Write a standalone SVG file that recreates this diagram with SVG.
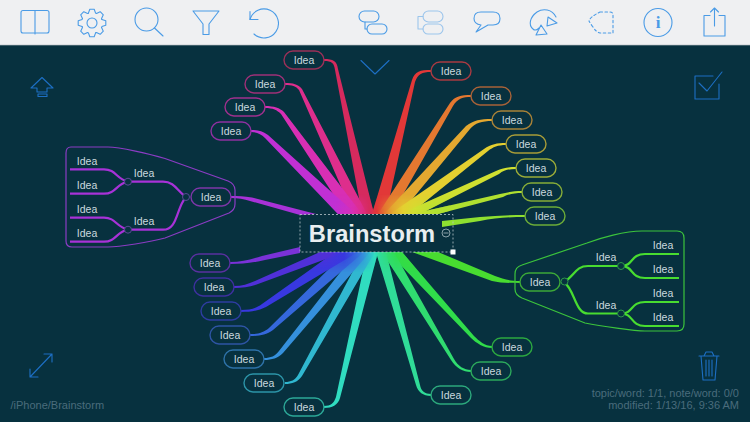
<svg xmlns="http://www.w3.org/2000/svg" width="750" height="422" viewBox="0 0 750 422">
<style>
.t{font-family:"Liberation Sans",Arial,sans-serif;font-size:10.500px;fill:#cbdadf;text-anchor:middle}
.p{fill:#07313f;stroke-width:1.4}
.ic{fill:none;stroke:#4a9be6;stroke-width:1.1;stroke-linejoin:round;stroke-linecap:round}
.ic2{fill:none;stroke:#1d6fc4;stroke-width:1.1;stroke-linejoin:round;stroke-linecap:round}
.s{font-family:"Liberation Sans",Arial,sans-serif;font-size:11px;fill:#4a6c7c}
.br{fill:none;stroke-width:2.200;stroke-linecap:butt}
.o{fill:#07313f;stroke-width:1}
.b{fill:none;stroke-width:1.200}
</style>
<defs>
<path id="tooth" d="M-3.6 -9.9L-2.2 -13.8L2.2 -13.8L3.6 -9.9A10.5 10.5 0 0 1 4.4 -9.5"/>
<rect id="pill" x="-20" y="-9" width="40" height="18" rx="9"/>
<linearGradient id="gt" gradientUnits="userSpaceOnUse" x1="335" y1="0" x2="435" y2="0">
<stop offset="0" stop-color="#c030d4"/><stop offset="0.17" stop-color="#d82fb4"/><stop offset="0.26" stop-color="#de2e8c"/><stop offset="0.34" stop-color="#d62a5e"/><stop offset="0.42" stop-color="#e23838"/><stop offset="0.5" stop-color="#e47830"/><stop offset="0.58" stop-color="#e4a830"/><stop offset="0.68" stop-color="#e4d030"/><stop offset="0.8" stop-color="#d0e030"/><stop offset="1" stop-color="#b0e030"/>
</linearGradient>
<linearGradient id="gb" gradientUnits="userSpaceOnUse" x1="325" y1="0" x2="420" y2="0">
<stop offset="0" stop-color="#5030d8"/><stop offset="0.2" stop-color="#3838e0"/><stop offset="0.32" stop-color="#3568dc"/><stop offset="0.4" stop-color="#3590dc"/><stop offset="0.46" stop-color="#30b8d0"/><stop offset="0.52" stop-color="#30dcc0"/><stop offset="0.58" stop-color="#30dc98"/><stop offset="0.66" stop-color="#30dc70"/><stop offset="0.75" stop-color="#30dc4a"/><stop offset="1" stop-color="#48dc30"/>
</linearGradient>
<linearGradient id="ft" x1="0" y1="0" x2="0" y2="1"><stop offset="0" stop-color="#000"/><stop offset="1" stop-color="#fff"/></linearGradient>
<linearGradient id="fb" x1="0" y1="0" x2="0" y2="1"><stop offset="0" stop-color="#fff"/><stop offset="1" stop-color="#000"/></linearGradient>
<mask id="mt" maskUnits="userSpaceOnUse" x="320" y="194" width="130" height="21"><rect x="320" y="194" width="130" height="21" fill="url(#ft)"/></mask>
<mask id="mb" maskUnits="userSpaceOnUse" x="310" y="251" width="130" height="21"><rect x="310" y="251" width="130" height="21" fill="url(#fb)"/></mask>
<clipPath id="ct">
<path d="M324 59C333 59 337 61 338 69L374 214L362 214L335 70C334 63 332 61 324 61Z"/>
<path d="M285 83C293 83 298 84 302 89L367 214L353 214L299 90C296 86 292 85 285 85Z"/>
<path d="M265 106C274 106 280 108 284 112L362 214L346 214L281 114C277 110 273 108 265 108Z"/>
<path d="M251 130C258 130 262 131 268 135L356 214L338 214L265 138C261 134 257 132 251 132Z"/>
<path d="M431 70C420 70 415 71 412 80L372 214L386 214L415 82C418 74 422 72 431 72Z"/>
<path d="M471 95C461 95 455 96 450 103L378 214L392 214L453 106C458 98 463 97 471 97Z"/>
<path d="M492 119C480 119 474 120 466 126L384 214L400 214L470 129C475 123 482 121 492 121Z"/>
<path d="M506 143C497 143 491 144 484 149L390 214L410 214L488 151C493 147 498 145 506 145Z"/>
<path d="M516 167C508 167 503 168 496 171L400 214L420 214L499 174C504 170 509 169 516 169Z"/>
<path d="M522 191C514 191 508 192 500 194L412 214L438 214L503 197C509 194 515 193 522 193Z"/>
</clipPath>
<clipPath id="cb">
<path d="M492 346C485 346 479 341 474 336L402 252L388 252L471 338C476 343 484 348 492 348Z"/>
<path d="M471 370C464 370 458 366 454 359L394 252L382 252L451 360C456 368 463 372 471 372Z"/>
<path d="M431 394C425 394 421 391 420 385L386 252L376 252L416 385C418 392 423 396 431 396Z"/>
<path d="M324 406C331 406 334 403 336 397L367 252L378 252L340 398C338 405 332 408 324 408Z"/>
<path d="M285 382C291 382 295 380 298 375L363 252L375 252L302 376C298 382 292 384 285 384Z"/>
<path d="M264 358C271 358 275 356 279 351L356 252L370 252L283 353C278 358 272 360 264 360Z"/>
<path d="M250 334C258 334 263 333 269 328L346 252L364 252L273 330C266 335 259 336 250 336Z"/>
<path d="M241 310C250 310 255 309 262 304L335 252L358 252L266 307C258 311 250 312 241 312Z"/>
</clipPath>
</defs>
<rect width="750" height="422" fill="#07313f"/>
<g id="toolbar">
<rect width="750" height="45" fill="#eff0f2"/>
<g class="ic">
<path d="M35 34V10.500H23Q21 10.500 21 12.500V31Q21 33 23 33H47Q49 33 49 31V12.500Q49 10.500 47 10.500H35"/>
<g transform="translate(92 23)"><use href="#tooth"/><use href="#tooth" transform="rotate(45)"/><use href="#tooth" transform="rotate(90)"/><use href="#tooth" transform="rotate(135)"/><use href="#tooth" transform="rotate(180)"/><use href="#tooth" transform="rotate(225)"/><use href="#tooth" transform="rotate(270)"/><use href="#tooth" transform="rotate(315)"/><circle r="5"/></g>
<circle cx="146.500" cy="19.500" r="11.500"/><path d="M154.500 28L163 36"/>
<path d="M193 11H219L209 24V34.500H203V24Z"/>
<path d="M250 19.500A14.500 14.500 0 1 1 254 34"/><path d="M250 11.500V19.500H258"/>
<rect x="359" y="11" width="20" height="11" rx="5.500"/><rect x="367" y="24" width="20" height="10" rx="5"/><path d="M365 22V29H367"/>
<g opacity="0.5"><rect x="423" y="11" width="20" height="11" rx="5.500"/><rect x="423" y="24" width="20" height="10" rx="5"/><path d="M423 16.500H418V29H423"/></g>
<path d="M481 12H493Q500 12 500 18.500Q500 25 493 25H488L476 32L481 25Q474 24 474 18.500Q474 12 481 12Z"/>
<path d="M556 17C552 9 543 8 537 12C530 17 528 25 533 29C535 31 537 30 539 28"/><path d="M548 17L557 23L547 26Z"/><path d="M541 25L547 34L536 35Z"/>
<path d="M600 12H610Q613 12 613 15V33H600Q596 32 593 27Q590 23 589 21Q590 17 600 12Z" stroke-dasharray="2.500 2.500"/>
<circle cx="658" cy="22.500" r="14"/>
<path d="M704 15.500H710M719 15.500H725V36H704V15.500"/><path d="M714.500 26V8M710.500 12L714.500 8L718.500 12"/>
</g>
<text x="658" y="28" text-anchor="middle" font-family="Liberation Serif,serif" font-weight="bold" font-size="17" fill="#4a9be6">i</text>
<rect y="44.500" width="750" height="0.800" fill="#c9cdd1"/>
</g>
<g id="controls" class="ic2">
<path d="M42 77.500L53 88H47V92H37V88H31Z"/><rect x="38" y="94" width="9" height="2.500"/>
<path d="M361 60.500L375 74L389 60.500"/>
<path d="M719 84V99H695V76H713"/><path d="M699 83L707 91L722 72"/>
<path d="M30 377L52 354M44 354H52V362M30 369V377H38"/>
<path d="M699 356H719M704 356L706 352H712L714 356M701 356L703 380H715L717 356M706 360V376M709 360V376M712 360V376"/>
</g>
<g id="connectors">
<path fill="#d62a5e" d="M324 59C333 59 337 61 338 69L374 214L362 214L335 70C334 63 332 61 324 61Z"/>
<path fill="#de2e8c" d="M285 83C293 83 298 84 302 89L367 214L353 214L299 90C296 86 292 85 285 85Z"/>
<path fill="#d82fb4" d="M265 106C274 106 280 108 284 112L362 214L346 214L281 114C277 110 273 108 265 108Z"/>
<path fill="#c030d4" d="M251 130C258 130 262 131 268 135L356 214L338 214L265 138C261 134 257 132 251 132Z"/>
<path fill="#a832d8" d="M231 196C238 196 244 196 252 197.500L316 214L300 215L250 201C244 199 238 198 231 198Z"/>
<g class="br" stroke="#a832d8">
<path d="M128 181.700H163C175 181.700 177 191 186 197"/><path d="M128 229.700H163C178 229.700 176 208 186 197"/>
<path d="M70 169.300H104C116 169.300 116 179 128 181.700"/><path d="M70 193.700H104C116 193.700 116 184 128 181.700"/>
<path d="M70 217.700H104C116 217.700 116 227 128 229.700"/><path d="M70 241.700H104C116 241.700 116 232 128 229.700"/>
</g>
<path fill="#e23838" d="M431 70C420 70 415 71 412 80L372 214L386 214L415 82C418 74 422 72 431 72Z"/>
<path fill="#e47830" d="M471 95C461 95 455 96 450 103L378 214L392 214L453 106C458 98 463 97 471 97Z"/>
<path fill="#e4a830" d="M492 119C480 119 474 120 466 126L384 214L400 214L470 129C475 123 482 121 492 121Z"/>
<path fill="#e4d030" d="M506 143C497 143 491 144 484 149L390 214L410 214L488 151C493 147 498 145 506 145Z"/>
<path fill="#d0e030" d="M516 167C508 167 503 168 496 171L400 214L420 214L499 174C504 170 509 169 516 169Z"/>
<path fill="#b0e030" d="M522 191C514 191 508 192 500 194L412 214L438 214L503 197C509 194 515 193 522 193Z"/>
<path fill="#8ee030" d="M525 215C510 215 495 216 480 217L442 221L442 227L480 221C495 218 510 217 525 217Z"/>
<path fill="#48dc30" d="M520 281C510 281 503 279 495 276L438 252L412 252L492 281C500 283 510 283 520 283Z"/>
<g class="br" stroke="#48dc30">
<path d="M564 282C575 276 575 266 588 266H621"/><path d="M564 282C575 290 575 313.500 588 313.500H621"/>
<path d="M621 266C634 266 630 254 645 254H679"/><path d="M621 266C634 266 630 278 645 278H679"/>
<path d="M621 313.500C634 313.500 630 302 645 302H679"/><path d="M621 313.500C634 313.500 630 326 645 326H679"/>
</g>
<path fill="#30dc4a" d="M492 346C485 346 479 341 474 336L402 252L388 252L471 338C476 343 484 348 492 348Z"/>
<path fill="#30dc70" d="M471 370C464 370 458 366 454 359L394 252L382 252L451 360C456 368 463 372 471 372Z"/>
<path fill="#30dc98" d="M431 394C425 394 421 391 420 385L386 252L376 252L416 385C418 392 423 396 431 396Z"/>
<path fill="#30dcc0" d="M324 406C331 406 334 403 336 397L367 252L378 252L340 398C338 405 332 408 324 408Z"/>
<path fill="#30b8d0" d="M285 382C291 382 295 380 298 375L363 252L375 252L302 376C298 382 292 384 285 384Z"/>
<path fill="#3590dc" d="M264 358C271 358 275 356 279 351L356 252L370 252L283 353C278 358 272 360 264 360Z"/>
<path fill="#3568dc" d="M250 334C258 334 263 333 269 328L346 252L364 252L273 330C266 335 259 336 250 336Z"/>
<path fill="#3838e0" d="M241 310C250 310 255 309 262 304L335 252L358 252L266 307C258 311 250 312 241 312Z"/>
<path fill="#5030d8" d="M234 286C242 286 248 284 255 281L320 252L345 252L258 284C250 287 243 288 234 288Z"/>
<path fill="#7a32d8" d="M230 262C242 262 252 259 262 256L300 247L300 253L265 260C252 263 242 264 230 264Z"/>
<g mask="url(#mt)"><rect x="320" y="194" width="130" height="21" fill="url(#gt)" clip-path="url(#ct)"/></g>
<g mask="url(#mb)"><rect x="310" y="251" width="130" height="21" fill="url(#gb)" clip-path="url(#cb)"/></g>
</g>
<g id="group-left">
<path class="b" stroke="#8b3cc4" d="M71 147H108C120 147 150 154 165 158.500L228 181Q235 184 235 190V204Q235 210 229 213L165 238C150 242 120 247 108 247H72Q66 247 66 241V153Q66 147 71 147Z"/>
</g>
<g id="group-right">
<path class="b" stroke="#3cc43c" d="M677 231H642C625 231 600 238 587 243L522 265Q515 267 515 274V289Q515 295 522 298L585 323C600 326 635 331 645 331H677Q684 331 684 324V238Q684 231 677 231Z"/>
</g>
<g id="root">
<rect x="300" y="214.500" width="153" height="37.500" fill="none" stroke="#b9c6cb" stroke-width="0.800" stroke-dasharray="2 2"/>
<text x="372" y="241.500" text-anchor="middle" font-family="Liberation Sans,Arial,sans-serif" font-weight="bold" font-size="23.700" fill="#e8eef0">Brainstorm</text>
<circle cx="446" cy="233" r="4" fill="none" stroke="#a9bcc3" stroke-width="0.800"/><path d="M443.500 233H448.500" stroke="#a9bcc3" stroke-width="0.800"/>
<rect x="450.500" y="249.500" width="5" height="5" fill="#fff"/>
</g>
<g id="n1"><use href="#pill" x="304" y="60" class="p" stroke="#9a3058"/><text class="t" x="304" y="63.500">Idea</text></g>
<g id="n2"><use href="#pill" x="265" y="84" class="p" stroke="#9f3078"/><text class="t" x="265" y="87.500">Idea</text></g>
<g id="n3"><use href="#pill" x="245" y="107" class="p" stroke="#a0308e"/><text class="t" x="245" y="110.500">Idea</text></g>
<g id="n4"><use href="#pill" x="231" y="131" class="p" stroke="#8e30a0"/><text class="t" x="231" y="134.500">Idea</text></g>
<g id="n5"><use href="#pill" x="451" y="71" class="p" stroke="#a83a42"/><text class="t" x="451" y="74.500">Idea</text></g>
<g id="n6"><use href="#pill" x="491" y="96" class="p" stroke="#a86238"/><text class="t" x="491" y="99.500">Idea</text></g>
<g id="n7"><use href="#pill" x="512" y="120" class="p" stroke="#a88238"/><text class="t" x="512" y="123.500">Idea</text></g>
<g id="n8"><use href="#pill" x="526" y="144" class="p" stroke="#a89c38"/><text class="t" x="526" y="147.500">Idea</text></g>
<g id="n9"><use href="#pill" x="536" y="168" class="p" stroke="#9cac38"/><text class="t" x="536" y="171.500">Idea</text></g>
<g id="n10"><use href="#pill" x="542" y="192" class="p" stroke="#86ac38"/><text class="t" x="542" y="195.500">Idea</text></g>
<g id="n11"><use href="#pill" x="545" y="216" class="p" stroke="#6cac38"/><text class="t" x="545" y="219.500">Idea</text></g>
<g id="n12"><use href="#pill" x="210" y="263" class="p" stroke="#5a30a0"/><text class="t" x="210" y="266.500">Idea</text></g>
<g id="n13"><use href="#pill" x="214" y="287" class="p" stroke="#3e30a0"/><text class="t" x="214" y="290.500">Idea</text></g>
<g id="n14"><use href="#pill" x="221" y="311" class="p" stroke="#2e3ca0"/><text class="t" x="221" y="314.500">Idea</text></g>
<g id="n15"><use href="#pill" x="230" y="335" class="p" stroke="#2e54a4"/><text class="t" x="230" y="338.500">Idea</text></g>
<g id="n16"><use href="#pill" x="244" y="359" class="p" stroke="#2e72a8"/><text class="t" x="244" y="362.500">Idea</text></g>
<g id="n17"><use href="#pill" x="264" y="383" class="p" stroke="#2c94a8"/><text class="t" x="264" y="386.500">Idea</text></g>
<g id="n18"><use href="#pill" x="304" y="407" class="p" stroke="#2ca898"/><text class="t" x="304" y="410.500">Idea</text></g>
<g id="n19"><use href="#pill" x="451" y="395" class="p" stroke="#2ca87c"/><text class="t" x="451" y="398.500">Idea</text></g>
<g id="n20"><use href="#pill" x="491" y="371" class="p" stroke="#2ca85c"/><text class="t" x="491" y="374.500">Idea</text></g>
<g id="n21"><use href="#pill" x="512" y="347" class="p" stroke="#2ca840"/><text class="t" x="512" y="350.500">Idea</text></g>
<g id="n22"><use href="#pill" x="211" y="197" class="p" stroke="#7e36a8"/><text class="t" x="211" y="200.500">Idea</text></g>
<g id="n23"><use href="#pill" x="540" y="282" class="p" stroke="#3ca838"/><text class="t" x="540" y="285.500">Idea</text></g>
<g id="left-leaves">
<circle class="o" cx="186" cy="197" r="3.500" stroke="#5a4a96"/><circle class="o" cx="128" cy="181.700" r="3.500" stroke="#5a4a96"/><circle class="o" cx="128" cy="229.700" r="3.500" stroke="#5a4a96"/>
<text class="t" x="144" y="176.500">Idea</text><text class="t" x="144" y="225">Idea</text>
<text class="t" x="87" y="164.500">Idea</text><text class="t" x="87" y="188.500">Idea</text><text class="t" x="87" y="212.500">Idea</text><text class="t" x="87" y="236.500">Idea</text>
</g>
<g id="right-leaves">
<circle class="o" cx="564.500" cy="281.500" r="3.500" stroke="#2e9a4a"/><circle class="o" cx="621" cy="266" r="3.500" stroke="#2e9a4a"/><circle class="o" cx="621" cy="313.500" r="3.500" stroke="#2e9a4a"/>
<text class="t" x="606" y="260.500">Idea</text><text class="t" x="606" y="309">Idea</text>
<text class="t" x="663" y="248.500">Idea</text><text class="t" x="663" y="272.500">Idea</text><text class="t" x="663" y="296.500">Idea</text><text class="t" x="663" y="320.500">Idea</text>
</g>
<text class="s" x="10.500" y="409">/iPhone/Brainstorm</text>
<text class="s" x="739" y="397" text-anchor="end">topic/word: 1/1, note/word: 0/0</text>
<text class="s" x="739" y="408.500" text-anchor="end">modified: 1/13/16, 9:36 AM</text>
</svg>
